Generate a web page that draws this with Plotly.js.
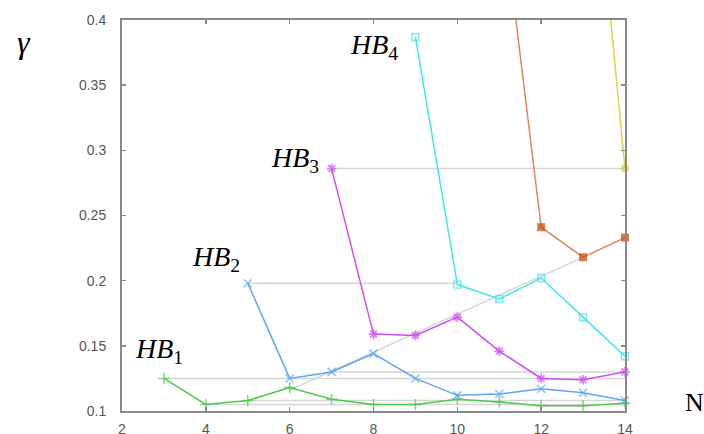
<!DOCTYPE html>
<html>
<head>
<meta charset="utf-8">
<script src="https://cdn.plot.ly/plotly-3.0.1.min.js"></script>
<style>
  html, body { margin: 0; padding: 0; background: #fff; }
  #chart { width: 704px; height: 434px; }
</style>
</head>
<body>
<div id="chart"></div>
<script>
// gamma versus N for the HB_k families
const hb1N = [3, 4, 5, 6, 7, 8, 9, 10, 11, 12, 13, 14];
const hb1G = [0.125, 0.105, 0.108, 0.118, 0.109, 0.105, 0.105, 0.109, 0.107, 0.104, 0.104, 0.106];

const hb2N = [5, 6, 7, 8, 9, 10, 11, 12, 13, 14];
const hb2G = [0.198, 0.125, 0.130, 0.144, 0.125, 0.112, 0.113, 0.117, 0.114, 0.108];

const hb3N = [7, 8, 9, 10, 11, 12, 13, 14];
const hb3G = [0.286, 0.159, 0.158, 0.172, 0.146, 0.125, 0.124, 0.130];

const hb4N = [9, 10, 11, 12, 13, 14];
const hb4G = [0.387, 0.197, 0.186, 0.202, 0.172, 0.142];

const hb5N = [11, 12, 13, 14];
const hb5G = [0.505, 0.241, 0.218, 0.233];

const hb6N = [13, 14];
const hb6G = [0.62, 0.286];

// light grey guide levels (from N start to N end)
const guideLevel = [0.125, 0.105, 0.108, 0.130, 0.198, 0.286];
const guideFrom  = [3, 4, 5, 7, 5, 7];
const guideTo    = [14, 14, 14, 14, 10, 14];

// slanted guide line
const slopeN = [6, 13];
const slopeG = [0.116, 0.218];

const xTicks = [2, 4, 6, 8, 10, 12, 14];
const yTicks = [0.1, 0.15, 0.2, 0.25, 0.3, 0.35, 0.4];
const yMax = 0.4;

const labels = ['HB', 'HB', 'HB', 'HB'];
const labelSub = ['1', '2', '3', '4'];

const guideColor = '#d6d6d6';
const traces = [];

guideLevel.forEach((lvl, i) => {
  traces.push({
    x: [guideFrom[i], guideTo[i]], y: [lvl, lvl],
    mode: 'lines', line: { color: guideColor, width: 1.5 },
    hoverinfo: 'skip', showlegend: false
  });
});
traces.push({
  x: slopeN, y: slopeG, mode: 'lines',
  line: { color: guideColor, width: 1.5 }, hoverinfo: 'skip', showlegend: false
});

function series(xs, ys, color, symbol, size, lineColor, markerLine) {
  return {
    x: xs, y: ys, mode: 'lines+markers',
    line: { color: lineColor || color, width: 1.5 },
    marker: {
      symbol: symbol, color: color,
      size: ys.map(v => (v > yMax ? 0 : size)),
      line: { color: color, width: markerLine }
    },
    cliponaxis: false, showlegend: false
  };
}

traces.push(series(hb1N, hb1G, '#4cc94c', 'cross-thin', 8, null, 1.5));
traces.push(series(hb2N, hb2G, '#5aa6f2', 'x-thin', 8, null, 1.5));
traces.push(series(hb3N, hb3G, '#d04ef2', 'asterisk', 8, null, 1.8));
traces.push(series(hb4N, hb4G, '#3fe6ea', 'square-open', 7, null, 1.5));
traces.push(series(hb5N, hb5G, '#c84400', 'square', 8, '#e0865e', 0));
traces.push(series(hb6N, hb6G, '#d2cb3c', 'circle', 8, '#dcd44a', 0));

const labelX = [2.27, 3.62, 5.5, 7.4];
const labelY = [0.1468, 0.2167, 0.2926, 0.380];

const annotations = labels.map((t, i) => ({
  x: labelX[i], y: labelY[i], xref: 'x', yref: 'y',
  xanchor: 'left', yanchor: 'middle',
  text: '<i>' + t + '</i><sub>' + labelSub[i] + '</sub>',
  showarrow: false,
  font: { family: 'Liberation Serif', size: 28, color: '#000' }
}));
annotations.push({
  x: -0.213, y: 0.995, xref: 'paper', yref: 'paper',
  text: '<i>γ</i>', showarrow: false,
  font: { family: 'Liberation Serif', size: 32, color: '#000' }
});
annotations.push({
  x: 1.161, y: -0.02, xref: 'paper', yref: 'paper',
  text: 'N', showarrow: false,
  font: { family: 'Liberation Serif', size: 26, color: '#000' }
});

const axisCommon = {
  showgrid: false, zeroline: false,
  showline: true, linecolor: '#8a8a8a', linewidth: 2,
  mirror: 'ticks', ticks: 'inside', ticklen: 4, tickwidth: 1.5, tickcolor: '#8a8a8a',
  tickfont: { family: 'Liberation Sans', size: 14, color: '#555' }
};

const layout = {
  width: 704, height: 434,
  margin: { l: 122, r: 79, t: 20, b: 23 },
  paper_bgcolor: '#fff', plot_bgcolor: '#fff',
  xaxis: Object.assign({}, axisCommon, {
    range: [2, 14], tickvals: xTicks, ticktext: xTicks.map(String),
    ticklabelstandoff: 4
  }),
  yaxis: Object.assign({}, axisCommon, {
    range: [0.1, yMax], tickvals: yTicks, ticktext: yTicks.map(String),
    ticklabelstandoff: 11
  }),
  annotations: annotations
};

Plotly.newPlot('chart', traces, layout, { displayModeBar: false, staticPlot: true });
</script>
</body>
</html>
